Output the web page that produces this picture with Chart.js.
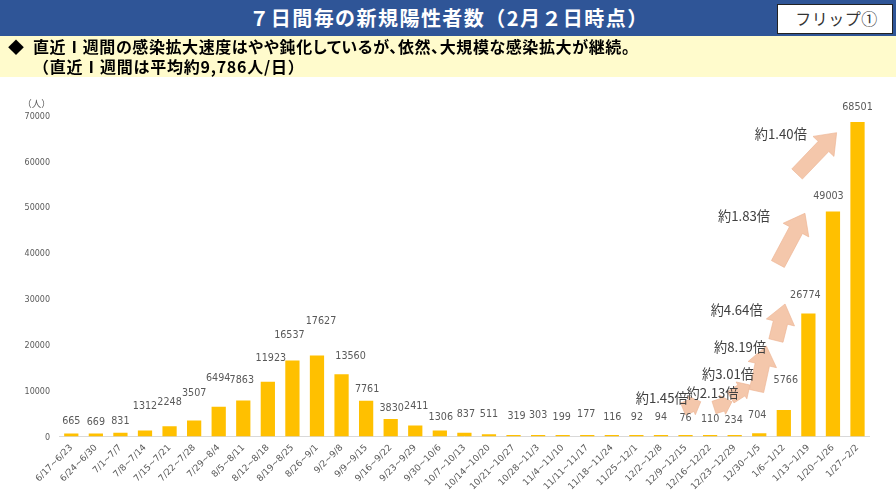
<!DOCTYPE html>
<html><head><meta charset="utf-8">
<script src="https://cdn.jsdelivr.net/npm/chart.js@4/dist/chart.umd.min.js"></script>
<style>
html,body{margin:0;padding:0;width:896px;height:504px;overflow:hidden;background:#fff;font-family:"Noto Sans CJK JP",sans-serif}
#title{position:absolute;left:2px;top:0;width:894px;height:36px;padding-left:0;color:#fff;font-weight:700;font-size:20px;line-height:36px;text-align:center;letter-spacing:1.45px}
#bar{position:absolute;left:0;top:0;width:896px;height:36px;background:#2F5597}
#flip{position:absolute;left:777px;top:4px;width:116px;height:30px;background:#fff;border:1px solid #222;box-sizing:border-box;color:#333;font-size:16px;line-height:27px;text-align:center;letter-spacing:.5px;padding-left:3px}
#band{position:absolute;left:0;top:36px;width:896px;height:41px;background:#FFFBCC;color:#000;font-weight:700;font-size:16px;line-height:20px}
#band div{position:absolute;white-space:nowrap}
#wrap{position:absolute;left:0;top:0;width:896px;height:504px}
</style></head><body>
<div id="wrap"><canvas id="c" width="896" height="504"></canvas></div>
<div id="bar"></div>
<div id="title">７日間毎の新規陽性者数（2月２日時点）</div>
<div id="flip">フリップ①</div>
<div id="band"><div style="left:8px;top:0">◆</div><div id="l1" style="left:33px;top:0;font-feature-settings:'palt';letter-spacing:.59px">直近Ⅰ週間の感染拡大速度はやや鈍化しているが、依然、大規模な感染拡大が継続。</div><div id="l2" style="left:33px;top:20px;letter-spacing:.75px">（直近Ⅰ週間は平均約9,786人/日）</div></div>
<script>
const categories=["6/17~6/23","6/24~6/30","7/1~7/7","7/8~7/14","7/15~7/21","7/22~7/28","7/29~8/4","8/5~8/11","8/12~8/18","8/19~8/25","8/26~9/1","9/2~9/8","9/9~9/15","9/16~9/22","9/23~9/29","9/30~10/6","10/7~10/13","10/14~10/20","10/21~10/27","10/28~11/3","11/4~11/10","11/11~11/17","11/18~11/24","11/25~12/1","12/2~12/8","12/9~12/15","12/16~12/22","12/23~12/29","12/30~1/5","1/6~1/12","1/13~1/19","1/20~1/26","1/27~2/2"];
const cases=[665,669,831,1312,2248,3507,6494,7863,11923,16537,17627,13560,7761,3830,2411,1306,837,511,319,303,199,177,116,92,94,76,110,234,704,5766,26774,49003,68501];
const labelLift=[11.5,11.4,11.2,23.8,23.5,26.4,28,19.7,23.7,25.2,33.8,17.5,10.9,10.2,18.7,13.5,17.7,19.9,18.3,20.1,18.3,21.4,18.3,18.8,18.8,17.5,16.7,15.4,17.6,29.3,18.2,15.4,13.9];
const labelShift=[0,0,0,0,0,0,-.5,-1.5,3,-3,4,9,1,1,1,1,1.5,0,3,0,-1,-1,.5,.5,0,0,0,-1,-2,2,-3,-4.5,0];
const ratioLabels=["約1.45倍","約2.13倍","約3.01倍","約8.19倍","約4.64倍","約1.83倍","約1.40倍"];
const ratioAt=[[24.03,8383],[26.10,9471],[26.73,13608],[27.22,19487],[27.08,27543],[27.38,48075],[28.88,65863]];
const arrowTail=[[24.90,5988],[26.16,6314],[26.83,8513],[27.89,9907],[28.68,20902],[28.76,37558],[29.54,57154]];
const arrowTip=[[25.62,7577],[26.89,7577],[27.62,11213],[28.29,19705],[29.05,28849],[29.86,48597],[31.15,66146]];
const plugin={id:'deco',
 beforeDraw(ch){ch.scales.y.getLabelItems().forEach(it=>{if(!it.options._moved){it.options.translation[1]+=1.5;it.options._moved=true}})},
 afterDatasetsDraw(ch){
 const {ctx,scales:{x,y}}=ch;
 ctx.save();
 ctx.textAlign='center';ctx.textBaseline='middle';
 arrowTail.forEach((t,i)=>{
  const x0=x.getPixelForValue(t[0]),y0=y.getPixelForValue(t[1]),x1=x.getPixelForValue(arrowTip[i][0]),y1=y.getPixelForValue(arrowTip[i][1]);
  const a=Math.atan2(y1-y0,x1-x0),L=Math.hypot(x1-x0,y1-y0),big=i>2;
  const hw=big?14.5:10,sw=big?7.3:6.5,hl=big?19:10;
  ctx.save();ctx.translate(x0,y0);ctx.rotate(a);
  ctx.beginPath();ctx.moveTo(0,-sw);ctx.lineTo(L-hl,-sw);ctx.lineTo(L-hl,-hw);ctx.lineTo(L,0);ctx.lineTo(L-hl,hw);ctx.lineTo(L-hl,sw);ctx.lineTo(0,sw);ctx.closePath();
  ctx.fillStyle='#F4C7AB';ctx.strokeStyle='#EDB493';ctx.lineWidth=.6;ctx.fill();ctx.stroke();ctx.restore();
 });
 ctx.font='9.6px "DejaVu Sans"';ctx.fillStyle='#595959';
 cases.forEach((v,i)=>ctx.fillText(String(v),x.getPixelForValue(i)+labelShift[i],y.getPixelForValue(v)-labelLift[i]));
 ctx.font='13.2px "Noto Sans CJK JP"';ctx.fillStyle='#404040';
 ratioLabels.forEach((s,i)=>ctx.fillText(s,x.getPixelForValue(ratioAt[i][0]),y.getPixelForValue(ratioAt[i][1])));
 ctx.font='9.5px "Noto Sans CJK JP"';ctx.fillStyle='#595959';
 ctx.fillText('（人）',36.5,y.getPixelForValue(70000)-12);
 ctx.restore();
}};
new Chart(document.getElementById('c'),{type:'bar',data:{labels:categories,datasets:[{data:cases,backgroundColor:'#FFC000',categoryPercentage:1,barPercentage:.58,minBarLength:1.5}]},
options:{responsive:false,animation:false,
 layout:{padding:{left:0,right:26.2,top:115,bottom:0}},
 plugins:{legend:{display:false},tooltip:{enabled:false}},
 scales:{
  x:{afterFit(s){s.height=67.5},grid:{display:false,drawTicks:false},border:{color:'#D9D9D9'},ticks:{color:'#595959',font:{family:'"DejaVu Sans"',size:9},maxRotation:45,minRotation:45,autoSkip:false,padding:6}},
  y:{min:0,max:70000,afterFit(s){s.width=59},grid:{display:false,drawTicks:false},border:{display:false},ticks:{stepSize:10000,callback:v=>String(v),color:'#595959',font:{family:'"DejaVu Sans"',size:8},padding:9}}
 }},plugins:[plugin]});
</script>
</body></html>
